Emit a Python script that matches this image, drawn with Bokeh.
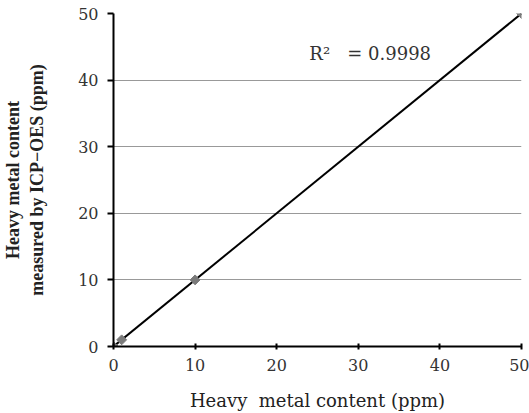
import math
from bokeh.plotting import figure
from bokeh.models import Range1d, Label, FixedTicker
from bokeh.embed import file_html
from bokeh.resources import INLINE

x_vals = [0, 1, 10, 50]
y_vals = [0, 1, 10, 50]
fit_x = [0, 50]
fit_y = [0, 50]
ticks = [0, 10, 20, 30, 40, 50]
r2_text = "R\u00b2\u00a0\u00a0 = 0.9998"
x_title = "Heavy\u00a0 metal content (ppm)"
y_title = "Heavy metal content\nmeasured by ICP\u2212OES (ppm)"

FONT = "DejaVu Serif"
TFONT = "Liberation Serif"

p = figure(width=529, height=413, output_backend="svg", toolbar_location=None,
           x_range=Range1d(0, 50), y_range=Range1d(0, 50))
p.min_border_left = 111
p.min_border_right = 8
p.min_border_top = 13
p.min_border_bottom = 66
p.outline_line_color = None

p.line(fit_x, fit_y, line_color="black", line_width=2)
p.scatter(x_vals, y_vals, marker="square", angle=math.pi / 4, size=7,
          fill_color="#7a7a7a", line_color="#7a7a7a")

for ax in (p.xaxis, p.yaxis):
    ax.ticker = FixedTicker(ticks=ticks)
    ax.axis_line_color = "black"
    ax.axis_line_width = 2
    ax.major_tick_line_color = "black"
    ax.major_tick_line_width = 2
    ax.minor_tick_line_color = None
    ax.major_label_text_font = FONT
    ax.major_label_text_font_size = "16px"
    ax.major_label_text_color = "#333333"
    ax.axis_label_text_color = "#222222"

p.xaxis.axis_label_text_font = FONT
p.xaxis.axis_label_text_font_size = "18px"
p.xaxis.axis_label_text_font_style = "normal"
p.yaxis.axis_label_text_font = TFONT
p.yaxis.axis_label_text_font_size = "18px"
p.yaxis.axis_label_text_font_style = "bold"

p.xaxis.major_tick_in = 3
p.xaxis.major_tick_out = 3
p.yaxis.major_tick_in = 0
p.yaxis.major_tick_out = 6
p.xaxis.major_label_standoff = 9
p.yaxis.major_label_standoff = 9
p.xaxis.axis_label = x_title
p.xaxis.axis_label_standoff = 16
p.yaxis.axis_label = y_title
p.yaxis.axis_label_standoff = 28

p.xgrid.grid_line_color = None
p.ygrid.ticker = FixedTicker(ticks=[10, 20, 30, 40, 50])
p.ygrid.grid_line_color = "#999999"
p.ygrid.grid_line_width = 1

p.add_layout(Label(x=24, y=44.0, text=r2_text, text_font=FONT, text_font_size="18px",
                   text_color="#333333", text_baseline="alphabetic"))

open("out.html", "w").write(file_html(p, INLINE))
